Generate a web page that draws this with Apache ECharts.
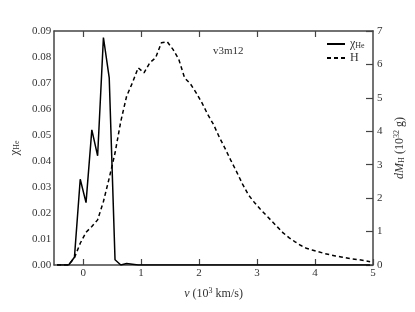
<!DOCTYPE html>
<html><head><meta charset="utf-8">
<script src="https://cdn.jsdelivr.net/npm/echarts@6/dist/echarts.min.js"></script>
<style>html,body{margin:0;padding:0;background:#fff}#c{width:415px;height:312px}</style>
</head><body><div id="c"></div>
<script>
// velocity grid (10^3 km/s)
const velocity = [-0.45,-0.35,-0.25,-0.15,-0.05,0.05,0.15,0.25,0.35,0.45,0.55,0.65,0.75,0.85,0.95,
 1.05,1.15,1.25,1.35,1.45,1.55,1.65,1.75,1.85,1.95,2.05,2.15,2.25,2.35,2.45,2.55,2.65,2.75,2.85,2.95,
 3.05,3.15,3.25,3.35,3.45,3.55,3.65,3.75,3.85,3.95,4.05,4.15,4.25,4.35,4.45,4.55,4.65,4.75,4.85,4.95];
// helium mass fraction chi_He
const chiHe = [0,0,0,0.003,0.033,0.024,0.052,0.042,0.0875,0.072,0.002,0,0.0006,0.0003,0,
 0,0,0,0,0,0,0,0,0,0,0,0,0,0,0,0,0,0,0,0,
 0,0,0,0,0,0,0,0,0,0,0,0,0,0,0,0,0,0,0,0];
// hydrogen mass dM_H (10^32 g)
const dMH = [0,0,0,0.22,0.65,0.98,1.15,1.35,1.9,2.6,3.35,4.3,5.05,5.45,5.9,
 5.75,6.05,6.2,6.65,6.68,6.45,6.15,5.6,5.42,5.15,4.85,4.5,4.2,3.82,3.48,3.12,2.78,2.42,2.1,1.88,
 1.68,1.5,1.32,1.14,0.96,0.82,0.7,0.59,0.5,0.45,0.4,0.35,0.31,0.27,0.24,0.21,0.18,0.16,0.13,0.1];
const xTicks = [0,1,2,3,4,5];
const topTicks = [0,1,2,3,4];

const FONT = 'Liberation Serif';
const TXT = '#333';
const AX = '#444';

const chart = echarts.init(document.getElementById('c'), null, {renderer:'canvas'});
chart.setOption({
  animation:false,
  backgroundColor:'#fff',
  textStyle:{fontFamily:FONT,color:TXT},
  grid:{left:52,top:31,width:321,height:234,containLabel:false},
  legend:{
    orient:'vertical', left:321, top:33, itemWidth:18, itemHeight:9, itemGap:2,
    data:['chi','H'],
    itemStyle:{opacity:0},
    formatter:n=> n==='chi' ? '{a|χ}{s|He}' : '{a|H}',
    textStyle:{fontFamily:FONT,color:TXT,fontSize:12,
      rich:{a:{fontFamily:FONT,fontSize:12,color:TXT},s:{fontFamily:FONT,fontSize:8,color:TXT,verticalAlign:'bottom',padding:[4,0,0,0]}}}
  },
  graphic:[{type:'text',left:213,top:46,style:{text:'v3m12',font:'11px "Liberation Serif"',fill:TXT}}],
  xAxis:[{
    type:'value',min:-0.5,max:5,position:'bottom',
    name:'{i|v} (10{p|3} km/s)',nameLocation:'middle',nameGap:22,
    nameTextStyle:{fontFamily:FONT,fontSize:12,color:TXT,
      rich:{i:{fontFamily:FONT,fontStyle:'italic',fontSize:12,color:TXT},p:{fontFamily:FONT,fontSize:8,color:TXT,verticalAlign:'top',padding:[0,0,5,0]}}},
    axisLine:{show:true,onZero:false,lineStyle:{color:AX,width:1.5}},
    axisTick:{show:true,inside:true,length:6,customValues:xTicks,lineStyle:{color:AX,width:1.2}},
    axisLabel:{customValues:xTicks,fontFamily:FONT,fontSize:11,color:TXT,margin:3},
    splitLine:{show:false}
  },{
    type:'value',min:-0.5,max:5,position:'top',
    axisLine:{show:true,onZero:false,lineStyle:{color:AX,width:1.5}},
    axisTick:{show:true,inside:true,length:6,customValues:topTicks,lineStyle:{color:AX,width:1.2}},
    axisLabel:{show:false},splitLine:{show:false}
  }],
  yAxis:[{
    type:'value',min:0,max:0.09,interval:0.01,position:'left',
    name:'{a|χ}{s|He}',nameLocation:'middle',nameGap:26,nameRotate:90,
    nameTextStyle:{fontFamily:FONT,fontSize:12,color:TXT,
      rich:{a:{fontFamily:FONT,fontSize:13,color:TXT},s:{fontFamily:FONT,fontSize:8,color:TXT,verticalAlign:'bottom',padding:[5,0,0,0]}}},
    axisLine:{show:true,onZero:false,lineStyle:{color:AX,width:1.5}},
    axisTick:{show:false},
    axisLabel:{fontFamily:FONT,fontSize:11,color:TXT,margin:3,formatter:v=>v.toFixed(2)},
    splitLine:{show:false}
  },{
    type:'value',min:0,max:7,interval:1,position:'right',
    name:'{i|dM}{s|H} (10{p|32} g)',nameLocation:'middle',nameGap:13,nameRotate:90,
    nameTextStyle:{fontFamily:FONT,fontSize:12,color:TXT,
      rich:{i:{fontFamily:FONT,fontStyle:'italic',fontSize:12,color:TXT},
            s:{fontFamily:FONT,fontSize:8,color:TXT,verticalAlign:'bottom',padding:[5,0,0,0]},
            p:{fontFamily:FONT,fontSize:8,color:TXT,verticalAlign:'top',padding:[0,0,5,0]}}},
    axisLine:{show:true,onZero:false,lineStyle:{color:AX,width:1.5}},
    axisTick:{show:true,inside:true,length:7,lineStyle:{color:AX,width:1.2}},
    axisLabel:{fontFamily:FONT,fontSize:11,color:TXT,margin:4},
    splitLine:{show:false}
  }],
  series:[{
    name:'chi',type:'line',xAxisIndex:0,yAxisIndex:0,symbol:'none',
    data:velocity.map((v,i)=>[v,chiHe[i]]),
    lineStyle:{color:'#000',width:1.5,type:'solid'},itemStyle:{color:'#000'}
  },{
    name:'H',type:'line',xAxisIndex:0,yAxisIndex:1,symbol:'none',
    data:velocity.map((v,i)=>[v,dMH[i]]),
    lineStyle:{color:'#000',width:1.5,type:[4,3]},itemStyle:{color:'#000'}
  }]
});
</script></body></html>
